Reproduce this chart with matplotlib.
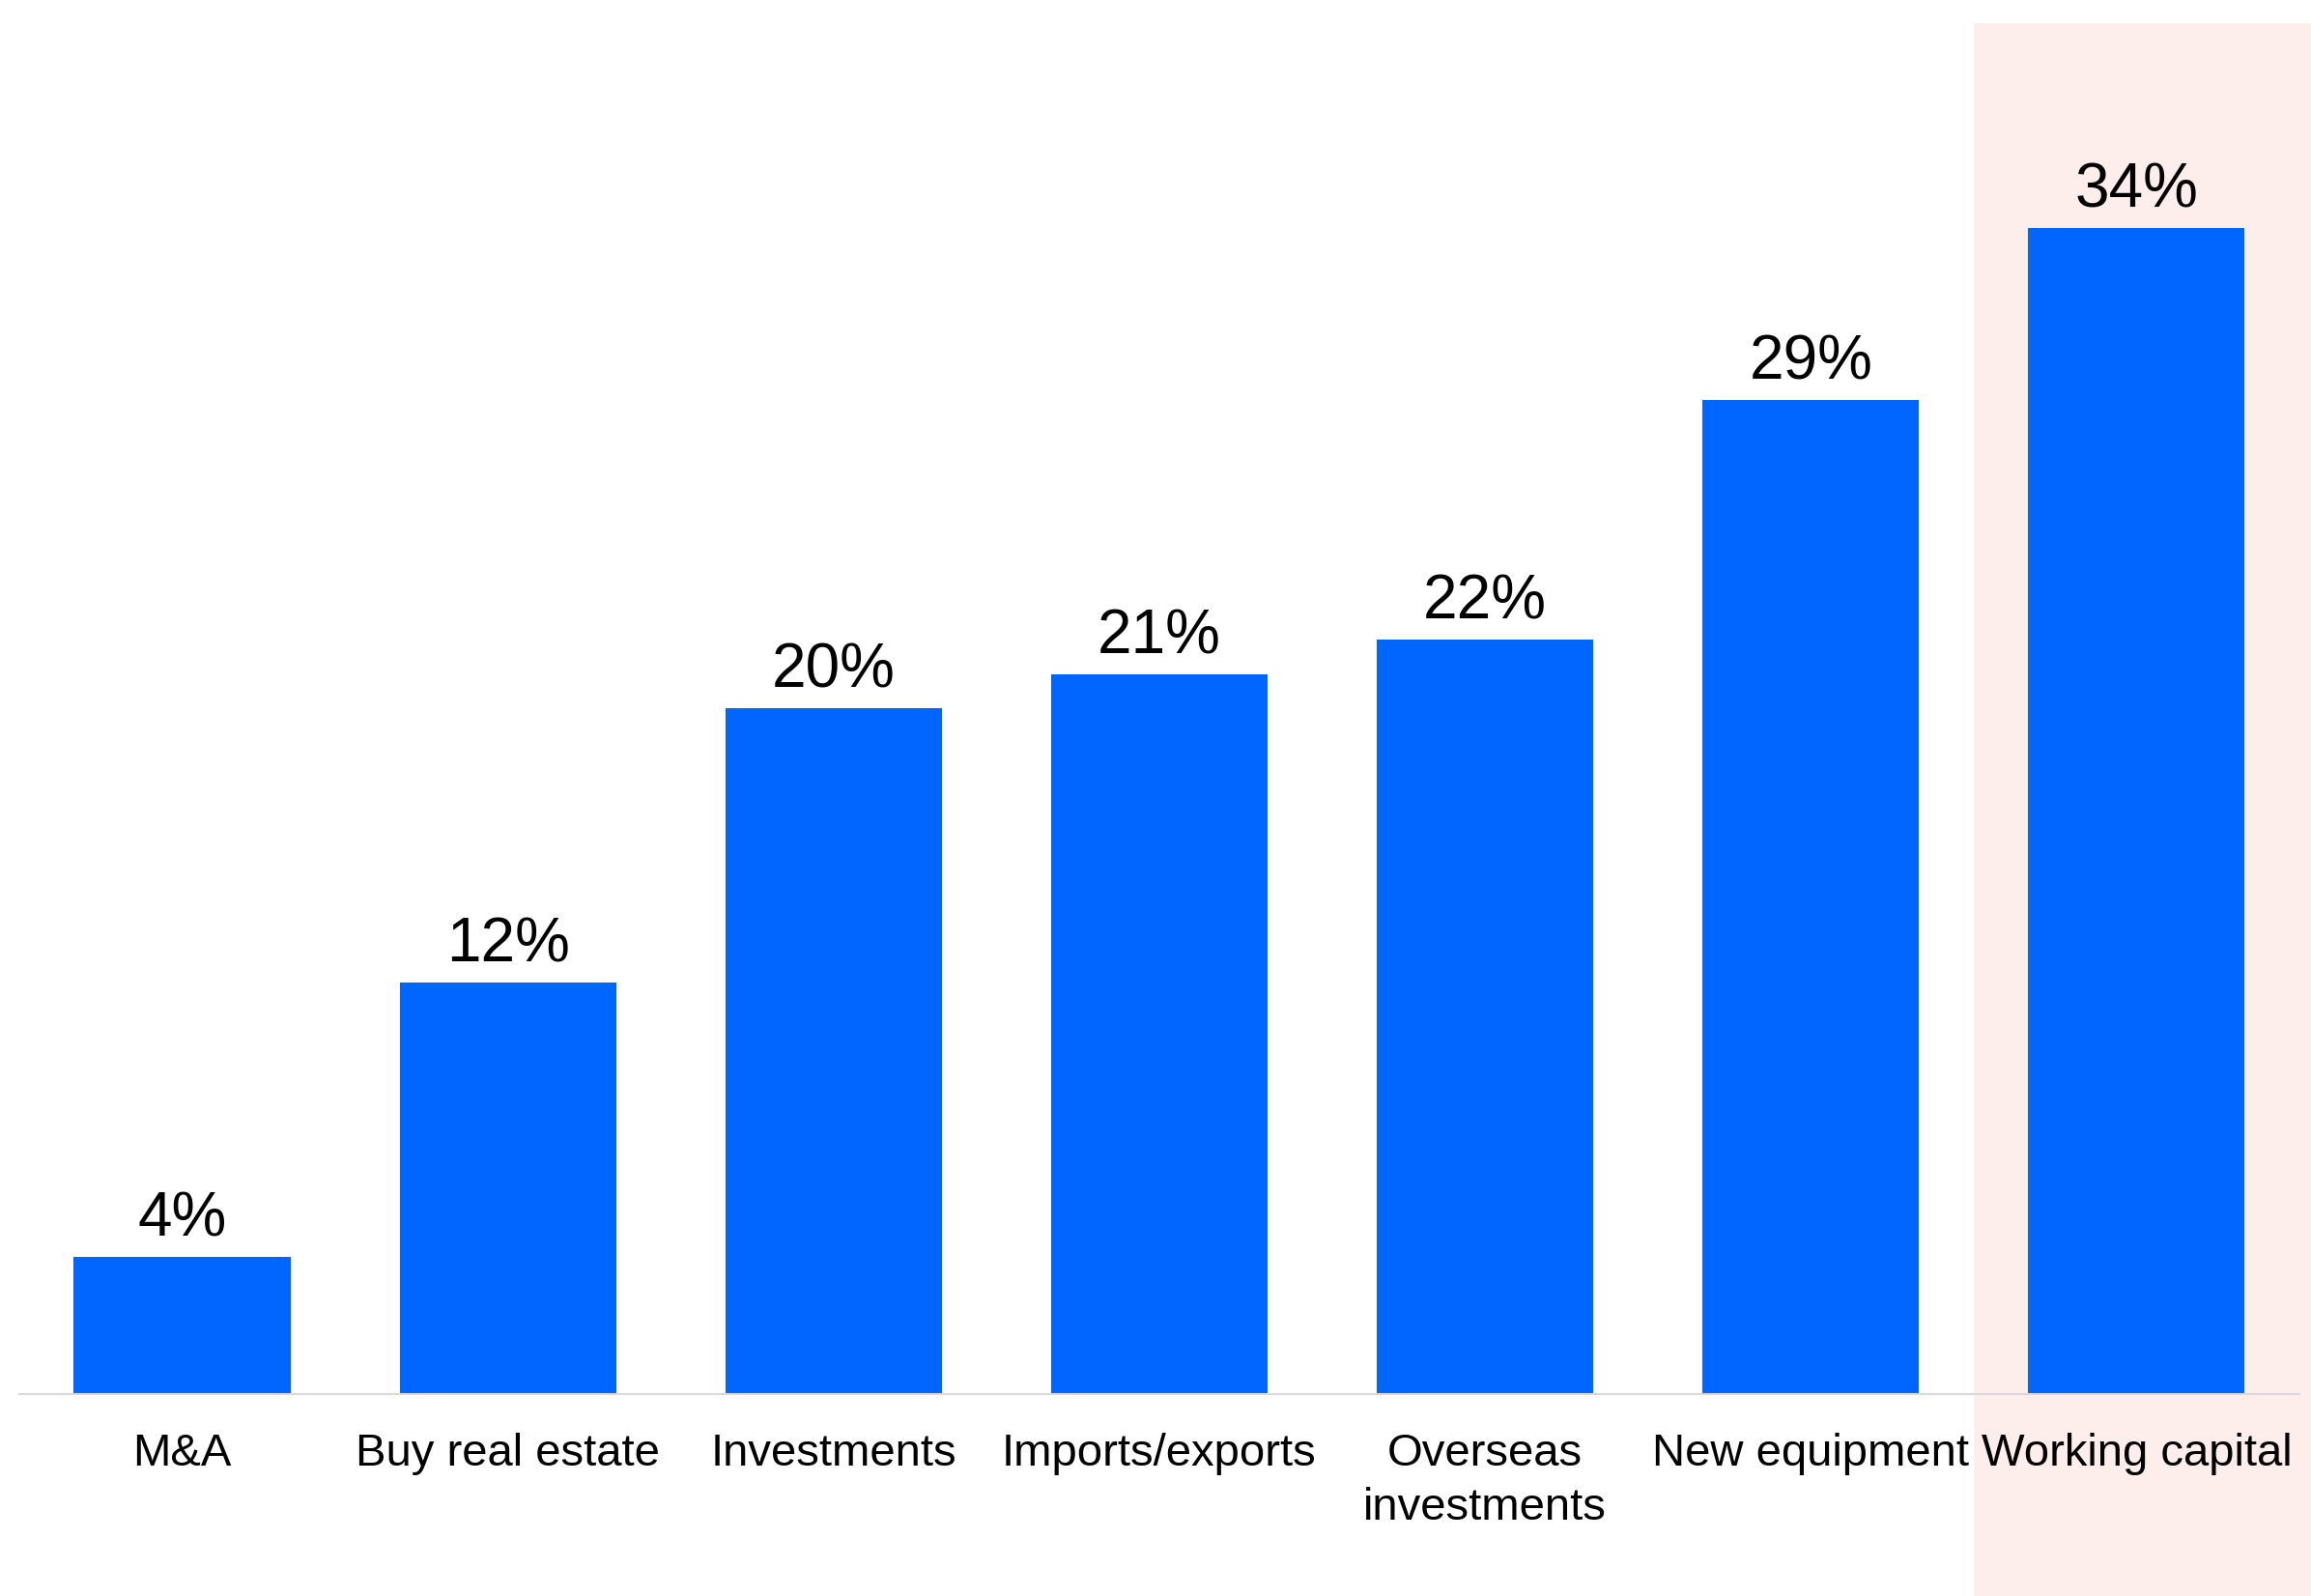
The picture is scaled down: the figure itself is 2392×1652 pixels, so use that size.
import matplotlib
matplotlib.use('Agg')
import matplotlib.pyplot as plt
from matplotlib.patches import Rectangle

plt.rcParams['font.family'] = ['Liberation Sans', 'DejaVu Sans']

## Uses of financing, share of respondents
categories = ['M&A', 'Buy real estate', 'Investments', 'Imports/exports',
              'Overseas\ninvestments', 'New equipment', 'Working capital']
values = [4, 12, 20, 21, 22, 29, 34]
labels = ['{}%'.format(v) for v in values]

bar_color = '#0066ff'
highlight = '#fdeeec'

fig = plt.figure(figsize=(23.92, 16.52), dpi=100)

# pink band behind the last category, runs off to the right/bottom edge
fig.patches.append(Rectangle((0.854, 0.0), 0.146, 0.9855,
                             transform=fig.transFigure, facecolor=highlight,
                             edgecolor='none', zorder=0))

ax = fig.add_axes([0.00836, 0.1265, 0.9866, 0.8166])
ax.set_zorder(1)
ax.patch.set_alpha(0)

xs = list(range(len(categories)))
bars = ax.bar(xs, values, width=0.665, color=bar_color, zorder=2)

for b, lab in zip(bars, labels):
    ax.annotate(lab, (b.get_x() + b.get_width() / 2, b.get_height()),
                xytext=(0, 6), textcoords='offset points',
                ha='center', va='bottom', fontsize=46, color='black')

ax.set_xlim(-0.5, 6.5)
ax.set_ylim(0, 38)
ax.set_xticks(xs)
ax.set_xticklabels(categories, fontsize=34, linespacing=1.35)
ax.tick_params(axis='x', length=0, pad=29)
ax.set_yticks([])

for s in ['top', 'right', 'left']:
    ax.spines[s].set_visible(False)
ax.spines['bottom'].set_color('#d9d9d9')
ax.spines['bottom'].set_linewidth(1.5)

fig.savefig('out.png', dpi=100)
